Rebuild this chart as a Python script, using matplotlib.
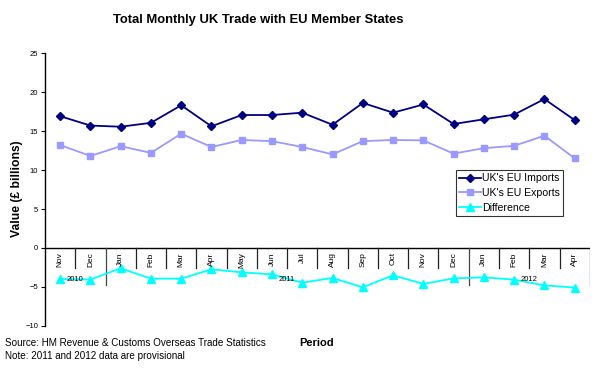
import matplotlib
matplotlib.use("Agg")
import matplotlib.pyplot as plt
import numpy as np

plt.rcParams['font.family'] = ['Liberation Sans', 'DejaVu Sans']

months = ["Nov", "Dec", "Jan", "Feb", "Mar", "Apr", "May", "Jun", "Jul", "Aug",
          "Sep", "Oct", "Nov", "Dec", "Jan", "Feb", "Mar", "Apr"]
years = ["2010", "2011", "2012"]
year_counts = [2, 12, 4]
imports = [16.9, 15.7, 15.55, 16.05, 18.3, 15.6, 17.05, 17.05, 17.35, 15.8,
           18.6, 17.35, 18.4, 15.9, 16.5, 17.1, 19.1, 16.4]
exports = [13.2, 11.8, 13.05, 12.2, 14.65, 12.95, 13.85, 13.7, 12.95, 12.0,
           13.7, 13.85, 13.8, 12.1, 12.8, 13.1, 14.4, 11.5]
difference = [-3.97, -4.05, -2.6, -3.93, -3.93, -2.73, -3.12, -3.38, -4.44, -3.85,
              -5.04, -3.5, -4.6, -3.9, -3.76, -4.06, -4.79, -5.08]

fig = plt.figure(figsize=(6, 3.76), dpi=100)
ax = fig.add_axes([0.075, 0.133, 0.908, 0.726])

x = np.arange(len(months))
ax.plot(x, imports, color='#000080', marker='D', markersize=4, lw=1.3, label="UK's EU Imports")
ax.plot(x, exports, color='#9999FF', marker='s', markersize=5, lw=1.3, label="UK's EU Exports")
ax.plot(x, difference, color='#00FFFF', marker='^', markersize=6, lw=1.3, label="Difference")

ax.set_xlim(-0.5, len(months) - 0.5)
ax.set_ylim(-10, 25)
ax.set_yticks(np.arange(-10, 26, 5))
ax.tick_params(axis='y', labelsize=5.5, length=3, width=0.8, pad=2)
ax.set_xticks([])
for s in ['top', 'right', 'bottom']:
    ax.spines[s].set_visible(False)
ax.spines['left'].set_linewidth(1.0)
ax.axhline(0, color='black', lw=1.0, zorder=1)

# month labels
for i, m in enumerate(months):
    ax.text(i, -0.55, m, rotation=90, ha='center', va='top', fontsize=6)
# separators
boundaries = np.cumsum([0] + year_counts)
year_edges = set(int(b) for b in boundaries)
for k in range(len(months) + 1):
    xb = k - 0.5
    if k in year_edges and k != 0:
        ax.plot([xb, xb], [0, -4.7], color='#444444', lw=0.9, zorder=1)
    elif k != 0:
        ax.plot([xb, xb], [0, -2.6], color='#222222', lw=0.9, zorder=1)
for yname, b0, n in zip(years, boundaries[:-1], year_counts):
    ax.text(b0 + (n - 1) / 2, -4.1, yname, ha='center', va='center', fontsize=5.5)

fig.text(0.028, 0.498, "Value (£ billions)", rotation=90, ha='center', va='center',
         fontsize=8.7, fontweight='bold')
fig.text(0.43, 0.947, "Total Monthly UK Trade with EU Member States", ha='center', va='center',
         fontsize=9.4, fontweight='bold')
fig.text(0.528, 0.088, "Period", ha='center', va='center', fontsize=8, fontweight='bold')
fig.text(0.008, 0.088, "Source: HM Revenue & Customs Overseas Trade Statistics", ha='left', va='center',
         fontsize=7.1)
fig.text(0.008, 0.053, "Note: 2011 and 2012 data are provisional", ha='left', va='center', fontsize=7.1)

leg = ax.legend(loc='upper left', bbox_to_anchor=(0.755, 0.571), fontsize=7.6, frameon=True,
                fancybox=False, edgecolor='black', handlelength=2.0, handletextpad=0.15,
                borderpad=0.3, labelspacing=0.45, borderaxespad=0)
leg.get_frame().set_linewidth(0.8)

fig.savefig("out.png", dpi=100)
